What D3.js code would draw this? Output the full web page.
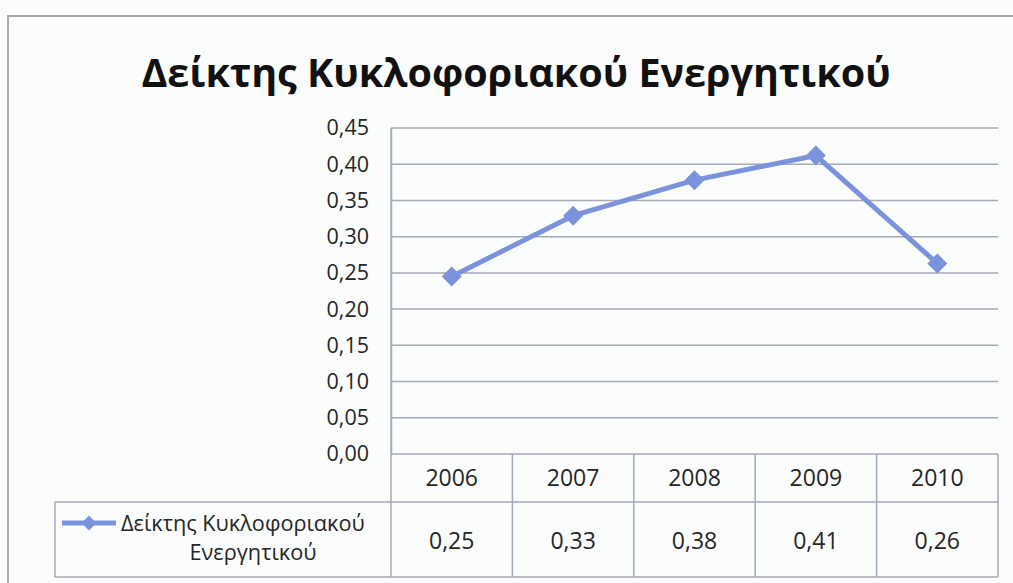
<!DOCTYPE html>
<html><head><meta charset="utf-8">
<script src="https://cdn.jsdelivr.net/npm/d3@7"></script>
<style>
html,body{margin:0;padding:0;background:#fbfcfc;}
svg{display:block;font-family:"Open Sans","Noto Sans",sans-serif;}
</style></head>
<body><svg id="c" width="1013" height="583"></svg>
<script>
const title = "Δείκτης Κυκλοφοριακού Ενεργητικού";
const seriesName = ["Δείκτης Κυκλοφοριακού", "Ενεργητικού"];
const years = ["2006","2007","2008","2009","2010"];
const values = [0.245, 0.329, 0.378, 0.412, 0.263];
const tableValues = ["0,25","0,33","0,38","0,41","0,26"];
const yTicks = [0,0.05,0.10,0.15,0.20,0.25,0.30,0.35,0.40,0.45];

const svg = d3.select("#c");
const L = 391, R = 998, T = 128, B = 454;
const color = "#7b93dc", grid = "#a7a9b8", txt = "#262626";

// outer frame
svg.append("path").attr("d","M8,583 L8,16 L1013,16").attr("fill","none").attr("stroke","#a9a9ad").attr("stroke-width",2);

svg.append("text").attr("x",516).attr("y",87).attr("text-anchor","middle")
  .attr("font-size",39.5).attr("font-weight","bold").attr("fill","#111").text(title);

const x = d3.scaleBand().domain(years).range([L,R]);
const y = d3.scaleLinear().domain([0,0.45]).range([B,T]);

// gridlines
svg.append("g").selectAll("line").data(yTicks).join("line")
  .attr("x1",L).attr("x2",R).attr("y1",d=>y(d)).attr("y2",d=>y(d))
  .attr("stroke",grid).attr("stroke-width",1.5);

// y axis
const yAxis = d3.axisLeft(y).tickValues(yTicks).tickSize(0).tickPadding(22)
  .tickFormat(d=>d3.format(".2f")(d).replace(".",","));
const ga = svg.append("g").attr("transform",`translate(${L},0)`).call(yAxis);
ga.select(".domain").attr("stroke",grid).attr("stroke-width",1.5);
ga.selectAll("text").attr("font-size",21.5).attr("fill",txt).attr("font-family","Open Sans, sans-serif");

// data table
const rowTop = B, rowMid = 502, rowBot = 577, legL = 55;
const tg = svg.append("g").attr("stroke",grid).attr("stroke-width",1.5).attr("fill","none");
tg.append("line").attr("x1",L).attr("x2",L).attr("y1",T).attr("y2",rowBot);
tg.append("line").attr("x1",R).attr("x2",R).attr("y1",rowTop).attr("y2",rowBot);
tg.append("line").attr("x1",legL).attr("x2",R).attr("y1",rowMid).attr("y2",rowMid);
tg.append("line").attr("x1",legL).attr("x2",R).attr("y1",rowBot).attr("y2",rowBot);
tg.append("line").attr("x1",legL).attr("x2",legL).attr("y1",rowMid).attr("y2",rowBot);
tg.selectAll(".sep").data(years.slice(1)).join("line")
  .attr("x1",d=>x(d)).attr("x2",d=>x(d)).attr("y1",rowTop).attr("y2",rowBot);

svg.append("g").selectAll("text").data(years).join("text")
  .attr("x",d=>x(d)+x.bandwidth()/2).attr("y",486).attr("text-anchor","middle")
  .attr("font-size",23).attr("fill",txt).text(d=>d);
svg.append("g").selectAll("text").data(tableValues).join("text")
  .attr("x",(d,i)=>x(years[i])+x.bandwidth()/2).attr("y",549).attr("text-anchor","middle")
  .attr("font-size",23).attr("fill",txt).text(d=>d);

// legend in table
svg.append("line").attr("x1",62).attr("x2",116).attr("y1",523).attr("y2",523)
  .attr("stroke",color).attr("stroke-width",5);
svg.append("path").attr("d",d3.symbol().type(d3.symbolSquare).size(110)())
  .attr("transform","translate(89,523) rotate(45)").attr("fill",color);
svg.append("text").attr("x",121).attr("y",531).attr("font-size",21.7).attr("fill",txt).text(seriesName[0]);
svg.append("text").attr("x",253).attr("y",560).attr("text-anchor","middle").attr("font-size",21.7).attr("fill",txt).text(seriesName[1]);

// line
const line = d3.line().x((d,i)=>x(years[i])+x.bandwidth()/2).y(d=>y(d));
svg.append("path").datum(values).attr("d",line).attr("fill","none")
  .attr("stroke",color).attr("stroke-width",5).attr("stroke-linejoin","round");
svg.append("g").selectAll("path").data(values).join("path")
  .attr("d",d3.symbol().type(d3.symbolSquare).size(200)())
  .attr("transform",(d,i)=>`translate(${x(years[i])+x.bandwidth()/2},${y(d)}) rotate(45)`)
  .attr("fill",color);
</script></body></html>
